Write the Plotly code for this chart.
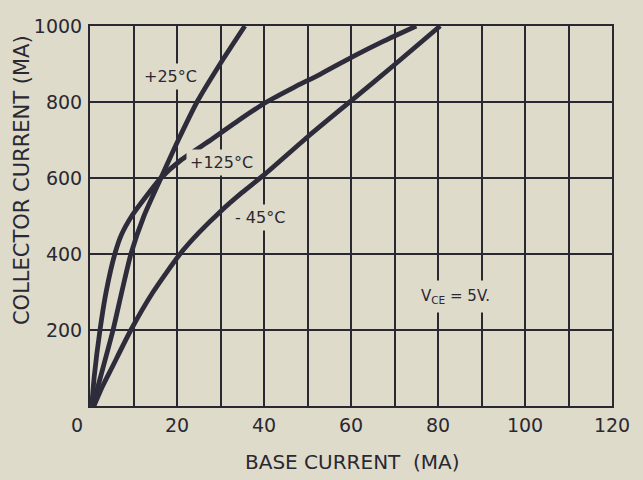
import plotly.graph_objects as go

# Base current (mA) / collector current (mA)
ib_25 = [0.6, 2.5, 5.3, 7.3, 9.4, 12.4, 16.3, 20.3, 24.6, 29.9, 35.6]
ic_25 = [0, 80, 200, 300, 400, 500, 600, 700, 800, 900, 1000]

ib_125 = [0.4, 1.0, 2.3, 3.7, 5.7, 7.2, 9.6, 12.8, 16.3, 21.0, 28.0, 34.2, 40.6, 46.8, 52.9, 60.2, 67.5, 75.0]
ic_125 = [0, 80, 200, 300, 400, 450, 500, 550, 600, 648, 702, 752, 800, 838, 873, 918, 960, 1000]

ib_m45 = [0.9, 2.8, 5.0, 9.4, 14.5, 20.7, 25.2, 30.0, 35.0, 40.0, 50.0, 60.0, 70.0, 80.5]
ic_m45 = [0, 50, 100, 200, 300, 400, 458, 512, 562, 608, 708, 803, 898, 1000]

x_tickvals = [20, 40, 60, 80, 100, 120]
x_ticktext = ["20", "40", "60", "80", "100", "120"]
y_tickvals = [200, 400, 600, 800, 1000]
y_ticktext = ["200", "400", "600", "800", "1000"]

curve_labels = ["+25°C", "+125°C", "- 45°C"]
label_x = [18.4, 30.3, 39.1]
label_y = [868, 642, 495]

BG = "#dedbcb"
INK = "#2a2830"
LINE = "#2e2c3a"
FONT = "DejaVu Sans"

fig = go.Figure()
for xs, ys in [(ib_25, ic_25), (ib_125, ic_125), (ib_m45, ic_m45)]:
    fig.add_trace(go.Scatter(x=xs, y=ys, mode="lines",
                             line=dict(color=LINE, width=4.8, shape="spline", smoothing=0.6),
                             showlegend=False, hoverinfo="skip"))

for t, x, y in zip(curve_labels, label_x, label_y):
    fig.add_annotation(x=x, y=y, text=t, showarrow=False,
                       font=dict(family=FONT, size=16, color=INK),
                       bgcolor=BG, borderpad=3)

fig.add_annotation(x=84.1, y=289, text="V<sub>CE</sub> = 5V.", showarrow=False,
                   font=dict(family=FONT, size=15, color=INK), bgcolor=BG, borderpad=6)

# shared origin label
fig.add_annotation(x=0, y=0, xref="x", yref="y", text="0", showarrow=False,
                   xshift=-13, yshift=-19, font=dict(family=FONT, size=19, color=INK))

# axis titles
fig.add_annotation(xref="paper", yref="paper", x=-0.130, y=0.595, text="COLLECTOR CURRENT (MA)",
                   textangle=-90, showarrow=False, xanchor="center", yanchor="middle",
                   font=dict(family=FONT, size=21, color=INK))
fig.add_annotation(xref="paper", yref="paper", x=0.502, y=-0.147, text="BASE CURRENT  (MA)",
                   showarrow=False, xanchor="center", yanchor="middle",
                   font=dict(family=FONT, size=20, color=INK))

fig.update_layout(
    width=643, height=480,
    margin=dict(l=90, r=31, t=26, b=74),
    paper_bgcolor=BG, plot_bgcolor=BG,
    font=dict(family=FONT, color=INK),
)
fig.update_xaxes(range=[0, 120], tickvals=x_tickvals, ticktext=x_ticktext,
                 showgrid=True, gridcolor=INK, gridwidth=1.6, automargin=False,
                 minor=dict(tick0=0, dtick=10, showgrid=True, gridcolor=INK, gridwidth=1.6, ticks=""),
                 showline=True, linecolor=INK, linewidth=2, mirror=True,
                 ticks="", ticklabelstandoff=1, zeroline=False,
                 tickfont=dict(family=FONT, size=19, color=INK))
fig.update_yaxes(range=[0, 1000], tickvals=y_tickvals, ticktext=y_ticktext,
                 showgrid=True, gridcolor=INK, gridwidth=1.6, automargin=False,
                 showline=True, linecolor=INK, linewidth=2, mirror=True,
                 ticks="", ticklabelstandoff=2, zeroline=False,
                 tickfont=dict(family=FONT, size=19, color=INK))

fig.write_html("out.html")
